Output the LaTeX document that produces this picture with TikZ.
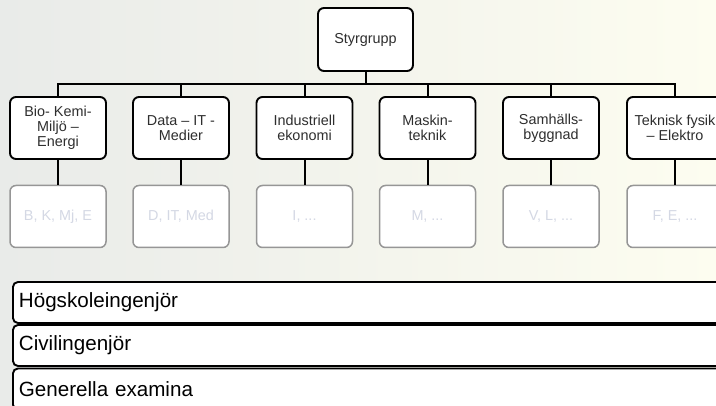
\documentclass[tikz,border=0pt]{standalone}
\usepackage{fontspec}
\setmainfont{Liberation Sans}
\usetikzlibrary{positioning}
\definecolor{bgleft}{RGB}{233,235,233}
\definecolor{bgright}{RGB}{253,253,240}
\definecolor{fadetext}{RGB}{212,216,228}
\definecolor{fadeline}{RGB}{150,150,150}
\tikzset{
  unit/.style={draw, line width=1.9pt, rounded corners=6pt, fill=white,
    minimum width=96pt, minimum height=62pt, inner sep=2pt, align=center,
    font=\fontsize{14.4}{15}\selectfont, text=black!82},
  prog/.style={unit, draw=fadeline, line width=1.5pt, text=fadetext},
  level/.style={draw, line width=1.9pt, rounded corners=5pt, fill=white,
    minimum height=41pt, text width=720pt, align=left, anchor=west,
    inner sep=6pt, font=\fontsize{20.6}{24}\selectfont},
  conn/.style={line width=2pt}
}

\begin{document}
\begin{tikzpicture}[x=1pt,y=-1pt]
    \useasboundingbox (0,0) rectangle (716,406);
    \shade[left color=bgleft, right color=bgright] (0,0) rectangle (716,406);
    \clip (0,0) rectangle (716,406);
    % top
    \node[unit, minimum width=95pt, minimum height=63pt] (styr) at (365.5,39.5) {Styrgrupp};
    % units
    \node[unit] (bio) at (58,128) {Bio- Kemi-\\Miljö –\\Energi};
    \node[unit] (data) at (181,128) {Data – IT -\\Medier};
    \node[unit] (indek) at (304.5,128) {Industriell\\ekonomi};
    \node[unit] (mask) at (427.5,128) {Maskin-\\teknik};
    \node[unit] (samh) at (551,128) {Samhälls-\\byggnad};
    \node[unit] (tfys) at (675,128) {Teknisk fysik\\– Elektro};
    % programmes
    \node[prog] (bkmj) at (58,216.5) {B, K, Mj, E};
    \node[prog] (dit) at (181,216.5) {D, IT, Med};
    \node[prog] (iprog) at (304.5,216.5) {I, ...};
    \node[prog] (mprog) at (427.5,216.5) {M, ...};
    \node[prog] (vl) at (551,216.5) {V, L, ...};
    \node[prog] (fe) at (675,216.5) {F, E, ...};
    %
    \foreach \u/\p in {bio/bkmj, data/dit, indek/iprog, mask/mprog, samh/vl, tfys/fe}{
      \draw[conn] (styr.south) -- ++(0,12.5) -| (\u.north);
      \draw[conn] (\u.south) -- (\p.north);
    }
    % degrees
    \node[level] (hing) at (12,302.5) {Högskoleingenjör};
    \node[level] (civ) at (12,345.5) {Civilingenjör};
    \node[level] (gen) at (12,389) {Generella examina};
\end{tikzpicture}
\end{document}
